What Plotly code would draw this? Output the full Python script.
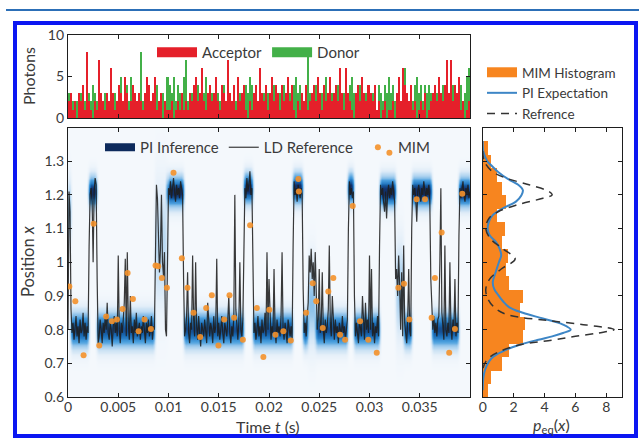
import numpy as np
import plotly.graph_objects as go

# ---------------- data ----------------
photon_dt = 0.0002
acceptor = [2,3,1,2,0,3,2,4,1,8,2,1,0,2,1,7,3,2,1,3,
            2,6,3,1,2,4,3,2,5,3,1,2,4,3,2,3,2,1,3,5,
            4,2,3,5,1,2,3,0,2,1,1,2,0,1,2,1,3,1,2,1,
            3,2,4,5,2,3,6,2,1,3,4,2,3,5,2,1,4,3,2,7,
            3,2,4,1,5,2,3,4,1,0,2,1,3,4,2,6,3,2,4,1,
            3,5,2,4,3,1,4,2,3,5,2,4,1,0,2,1,3,2,4,1,
            2,3,4,2,5,3,1,4,2,3,5,2,3,4,2,6,3,1,6,3,
            2,1,0,3,4,2,5,3,2,4,3,2,4,1,2,0,1,2,0,1,
            1,2,0,3,5,2,6,4,3,2,4,1,2,0,1,2,1,3,0,1,
            2,3,4,2,5,3,2,4,7,3,7,2,4,3,5,1,2,0,1,2]
donor = [3,1,2,1,2,1,3,1,2,1,3,2,4,3,2,1,2,1,3,2,
         1,2,1,3,2,1,5,2,1,4,2,5,1,3,2,1,8,2,1,2,
         3,1,2,1,4,2,1,3,2,5,4,3,5,2,4,3,2,5,7,2,
         1,3,2,1,4,2,1,3,5,2,1,3,2,1,3,2,1,4,2,3,
         2,1,3,2,1,3,2,1,4,3,5,4,2,3,1,2,1,3,2,3,
         1,2,4,1,2,3,1,4,2,1,3,2,4,5,3,4,2,1,3,8,
         3,1,2,4,1,2,3,1,5,2,1,3,2,1,4,2,1,3,2,1,
         4,5,3,2,1,4,2,1,3,2,1,3,2,1,4,3,2,4,3,5,
         3,4,2,1,3,2,1,6,2,1,3,2,4,5,3,4,2,4,3,4,
         3,1,2,3,1,2,4,1,2,1,3,4,2,1,3,4,2,3,5,6]

ld_dt = 0.0001
ld_reference = [
    0.80, 1.21, 1.15, 0.86, 0.79,
    0.82, 0.77, 0.80, 0.84, 0.78, 0.81, 0.76, 0.83, 0.79, 0.80, 0.85, 0.78, 0.82, 0.77, 0.81, 0.79,
    1.05, 1.20, 1.22, 1.18, 1.00, 1.21, 1.25, 1.23,
    0.95, 0.76,
    0.78, 0.83, 0.80, 0.76, 0.82, 0.79, 0.84, 0.80, 0.88, 0.79,
    0.77, 0.82, 0.80, 0.75, 0.81, 0.84, 0.79, 0.82, 0.78, 1.02,
    0.80, 0.76, 0.82, 0.79, 0.83, 0.88, 1.01, 0.78, 1.03, 0.82,
    0.77, 0.90, 0.79, 0.81, 0.76, 0.83, 0.79, 0.85, 0.78, 0.80,
    0.82, 0.77, 0.81, 0.79, 0.84, 0.80, 0.76, 0.82, 0.79, 0.83,
    0.78, 0.80, 0.84, 0.77, 0.81,
    0.80, 1.05, 1.23, 1.19, 1.02, 0.97, 1.04, 1.20, 1.00, 0.96, 1.03, 0.80, 0.78, 1.10,
    1.22, 1.20, 1.24, 1.19, 1.22, 1.25, 1.21, 1.18, 1.23, 1.20, 1.22, 1.19, 1.24, 1.21, 1.20,
    0.95, 0.78,
    0.80, 0.84, 0.97, 0.79, 0.76, 0.82, 0.80, 1.02, 0.83, 0.78,
    1.00, 0.81, 0.77, 0.84, 0.79, 0.75, 0.82, 0.80, 0.78, 0.83,
    0.79, 0.76, 0.88, 0.81, 0.78, 0.82, 0.80, 0.76, 0.84, 0.79,
    0.81, 1.01, 0.78, 0.82, 0.77, 0.80, 0.84, 0.79, 0.76, 0.82,
    0.80, 0.78, 0.83, 0.90, 0.79, 0.76, 0.81, 0.78, 0.84, 1.20,
    0.86, 0.79, 0.77, 0.82, 1.00, 0.80, 0.78, 0.83,
    1.10, 1.22, 1.19, 1.25, 1.21, 1.23, 1.27, 1.20, 1.22,
    0.90, 0.79,
    0.82, 0.77, 0.80, 0.84, 0.78, 0.81, 0.76, 0.83, 0.79, 0.80,
    0.85, 0.78, 1.03, 0.80, 0.95, 0.82, 0.77, 0.81, 0.79, 0.98,
    0.80, 0.76, 0.83, 0.79, 0.81, 0.78, 0.84, 1.03, 0.80, 0.77,
    0.82, 0.79, 0.76, 0.83, 0.80, 0.78, 0.81, 0.77,
    1.05, 1.24, 1.20, 1.22, 1.18, 1.23, 1.21, 1.19, 1.22, 1.20,
    0.92, 0.79,
    0.82, 0.78, 0.84, 0.88, 1.02, 0.97, 1.04, 0.95, 1.00, 0.90,
    1.03, 0.85, 0.80, 0.83, 0.98, 0.79, 0.82, 0.97, 0.80, 0.76,
    0.83, 0.79, 0.81, 0.86, 1.05, 0.82, 0.78, 0.90, 0.80, 0.77,
    0.83, 0.79, 0.81, 0.76, 0.82, 0.80, 0.78, 0.84, 0.79, 0.81,
    0.77, 0.80, 0.83,
    1.10, 1.24, 1.20, 1.22, 1.19, 1.21,
    0.90, 0.78,
    0.82, 0.79, 0.76, 0.83, 0.80, 0.78, 0.90, 0.81, 0.77, 0.88,
    0.80, 0.83, 0.79, 1.02, 0.80, 0.98, 0.78, 0.82, 0.76, 0.81,
    0.79, 0.84, 0.78,
    1.05, 1.23, 1.20, 1.22, 1.18, 1.15, 1.21, 1.13, 1.20, 1.23, 1.19, 1.22, 1.20, 1.24, 1.21, 1.18,
    0.95, 0.98, 0.90, 1.02, 0.93, 0.80, 0.97, 0.78, 1.05, 0.82, 0.79, 0.76, 0.83, 0.98, 0.80, 0.78,
    1.10, 1.23, 1.20, 1.22, 1.19, 1.12, 1.21, 1.23, 1.20, 1.18, 1.22, 1.20, 1.24, 1.21, 1.19, 1.22, 1.20, 1.23, 1.18,
    0.95, 0.85, 0.80, 0.84, 0.79, 0.82, 0.78, 0.83, 0.84, 1.00, 1.22, 0.85, 0.81, 0.77, 1.05, 0.80, 0.78, 0.82,
    0.79, 1.00, 0.81, 0.77, 0.83, 0.80, 0.95, 0.78, 0.82, 0.79,
    1.08, 1.22, 1.19, 1.21, 1.24, 1.20, 1.18, 1.22, 1.20, 1.23, 1.19, 1.21]

mim_t = [0.00013,0.00073,0.00155,0.00255,0.00311,0.0038,0.00437,0.00487,0.00543,0.00593,
         0.00646,0.00702,0.00762,0.00825,0.00871,0.00898,0.00934,0.00984,0.0105,0.01133,
         0.01189,0.01249,0.01315,0.01375,0.01431,0.01497,0.01554,0.01607,0.01653,0.0174,
         0.01812,0.01879,0.01944,0.02004,0.02064,0.02143,0.02217,0.02292,0.02297,0.0237,
         0.02435,0.0247,0.02535,0.0259,0.0264,0.02707,0.02757,0.02833,0.02906,0.02988,
         0.03072,0.03198,0.03287,0.03343,0.03396,0.03469,0.03552,0.03618,0.03651,0.03718,
         0.03793,0.0385,0.03923]
mim_x = [0.928,0.884,0.724,1.114,0.753,0.839,0.825,0.830,0.861,0.968,
         0.891,0.795,0.830,0.802,0.990,0.988,0.953,0.924,1.266,1.012,
         0.924,0.850,0.778,0.864,0.902,0.753,0.830,0.902,0.835,0.770,
         1.110,0.864,0.719,0.859,0.785,0.795,0.768,1.247,1.210,0.850,
         0.938,0.884,0.805,0.913,0.953,0.785,0.770,1.167,0.825,0.770,
         0.731,1.325,0.924,0.936,0.830,1.187,1.187,0.835,0.953,1.088,
         0.731,0.802,1.203]

# PI inference posterior: piecewise segments (start, end, mean, spread)
pi_t0 = [0.0, 0.0003, 0.0021, 0.0029, 0.0087, 0.0099, 0.0115, 0.0175, 0.0184, 0.0224, 0.0234,
         0.0239, 0.0247, 0.0279, 0.0285, 0.0310, 0.0326, 0.0334, 0.0342, 0.0362, 0.0389]
pi_t1 = [0.0003, 0.0021, 0.0029, 0.0087, 0.0099, 0.0115, 0.0175, 0.0184, 0.0224, 0.0234, 0.0239,
         0.0247, 0.0279, 0.0285, 0.0310, 0.0326, 0.0334, 0.0342, 0.0362, 0.0389, 0.0401]
pi_mu = [1.15, 0.80, 1.21, 0.80, 1.05, 1.21, 0.80, 1.22, 0.80, 1.22, 0.80,
         0.88, 0.80, 1.22, 0.80, 1.21, 0.92, 0.80, 1.21, 0.80, 1.21]
pi_sd = [0.06, 0.035, 0.03, 0.035, 0.12, 0.03, 0.035, 0.03, 0.035, 0.03, 0.035,
         0.08, 0.035, 0.03, 0.035, 0.03, 0.09, 0.035, 0.03, 0.035, 0.03]

hist_centers = [0.62,0.66,0.70,0.74,0.78,0.82,0.86,0.90,0.94,0.98,1.02,1.06,1.10,1.14,1.18,1.22,1.26,1.30,1.34]
hist_vals = [0.3,0.55,1.2,1.7,2.6,2.75,2.4,2.6,1.7,1.5,1.6,1.2,1.4,0.9,1.5,1.2,0.9,0.5,0.3]

piexp_pos = [1.36,1.327,1.30,1.288,1.268,1.248,1.23,1.214,1.198,1.18,
             1.16,1.14,1.12,1.10,1.08,1.06,1.04,1.021,1.00,0.972,
             0.94,0.92,0.903,0.885,0.867,0.85,0.833,0.815,0.80,0.79,
             0.78,0.77,0.755,0.74,0.72,0.705,0.68,0.66,0.62]
piexp_p = [0.0,0.05,0.3,0.55,1.0,1.6,2.3,2.6,2.5,2.15,
           1.3,0.65,0.4,0.32,0.45,0.86,1.1,1.2,1.05,0.85,
           0.65,0.75,1.0,1.3,1.7,2.6,3.9,5.2,5.7,5.2,
           4.5,3.6,2.4,1.5,0.7,0.4,0.15,0.05,0.0]
ref_pos = [1.33,1.30,1.27,1.25,1.23,1.21,1.20,1.19,1.17,1.15,
           1.13,1.10,1.07,1.04,1.01,0.98,0.95,0.92,0.89,0.86,
           0.843,0.827,0.814,0.80,0.79,0.78,0.769,0.755,0.735,0.72,
           0.705,0.69,0.67]
ref_p = [0.0,0.1,0.6,1.5,3.0,4.3,4.5,3.9,2.2,1.0,
         0.4,0.2,0.5,1.3,2.1,1.2,0.45,0.2,0.35,0.9,
         1.7,4.2,6.7,8.5,7.5,6.0,4.5,2.4,1.1,0.5,
         0.2,0.05,0.0]

time_ticks = [0, 0.005, 0.01, 0.015, 0.02, 0.025, 0.03, 0.035]
time_labels = ["0", "0.005", "0.01", "0.015", "0.02", "0.025", "0.03", "0.035"]
pos_ticks = [0.6, 0.7, 0.8, 0.9, 1.0, 1.1, 1.2, 1.3]
pos_labels = ["0.6", "0.7", "0.8", "0.9", "1", "1.1", "1.2", "1.3"]

# ---------------- posterior density grid ----------------
t_grid = np.linspace(0, 0.04, 401)
y_grid = np.linspace(0.6, 1.4, 161)
mu = np.full_like(t_grid, 0.8)
sd = np.full_like(t_grid, 0.035)
for a, b, m, s in zip(pi_t0, pi_t1, pi_mu, pi_sd):
    mask = (t_grid >= a - 1e-12) & (t_grid < b - 1e-12)
    mu[mask] = m
    sd[mask] = s
z = (0.035 / sd)[None, :] * np.exp(-0.5 * ((y_grid[:, None] - mu[None, :]) / sd[None, :]) ** 2)
kern = np.array([1, 2, 3, 2, 1], dtype=float)
kern /= kern.sum()
z = np.array([np.convolve(row, kern, mode="same") for row in z])
z = np.minimum(1.0, 0.9 * z)

FONT = "Lato"
TXT = "#3a3a3a"
W, H = 639, 438

fig = go.Figure()

# photons
fig.add_trace(go.Bar(y=donor, x0=photon_dt / 2, dx=photon_dt, width=photon_dt,
                     marker=dict(color="#43b048", line=dict(width=0)),
                     showlegend=False, xaxis="x", yaxis="y"))
fig.add_trace(go.Bar(y=acceptor, x0=photon_dt / 2, dx=photon_dt, width=photon_dt,
                     marker=dict(color="#e5202a", line=dict(width=0)),
                     showlegend=False, xaxis="x", yaxis="y"))
fig.add_trace(go.Scatter(x=[None], y=[None], mode="lines", name="Acceptor",
                         line=dict(color="#e5202a", width=12), legend="legend",
                         xaxis="x", yaxis="y"))
fig.add_trace(go.Scatter(x=[None], y=[None], mode="lines", name="Donor",
                         line=dict(color="#43b048", width=12), legend="legend",
                         xaxis="x", yaxis="y"))

# main panel
fig.add_trace(go.Heatmap(x=t_grid, y=y_grid, z=z, zmin=0, zmax=1, zsmooth="best",
                         showscale=False, hoverinfo="skip",
                         colorscale=[[0, "#f4f8fc"], [0.1, "#e4eff9"], [0.3, "#b0d4f0"],
                                     [0.55, "#4a9fde"], [0.8, "#1a6db8"], [1, "#10306a"]],
                         xaxis="x2", yaxis="y2"))
fig.add_trace(go.Scatter(x=[None], y=[None], mode="lines", name="PI Inference",
                         line=dict(color="#0d2a5c", width=8), legend="legend2",
                         xaxis="x2", yaxis="y2"))
fig.add_trace(go.Scatter(y=ld_reference, x0=0, dx=ld_dt, mode="lines", name="LD Reference",
                         line=dict(color="rgba(30,30,30,0.88)", width=1.2), legend="legend2",
                         xaxis="x2", yaxis="y2"))
fig.add_trace(go.Scatter(x=mim_t, y=mim_x, mode="markers", name="MIM",
                         marker=dict(color="#f4912a", size=6, opacity=0.9),
                         legend="legend2", xaxis="x2", yaxis="y2"))

# histogram panel
fig.add_trace(go.Bar(y=hist_centers, x=hist_vals, orientation="h", width=0.04,
                     marker=dict(color="#f7851f", line=dict(width=0)),
                     showlegend=False, xaxis="x3", yaxis="y3"))
fig.add_trace(go.Scatter(x=[None], y=[None], mode="lines", name="MIM Histogram",
                         line=dict(color="#f7851f", width=12), legend="legend3",
                         xaxis="x3", yaxis="y3"))
fig.add_trace(go.Scatter(x=piexp_p, y=piexp_pos, mode="lines", name="PI Expectation",
                         line=dict(color="#3d86c6", width=2, shape="spline"),
                         legend="legend3", xaxis="x3", yaxis="y3"))
fig.add_trace(go.Scatter(x=ref_p, y=ref_pos, mode="lines", name="Refrence",
                         line=dict(color="#333333", width=1.5, dash="8px,6px", shape="spline"),
                         legend="legend3", xaxis="x3", yaxis="y3"))

ax = dict(showline=True, linecolor="#1e1e1e", linewidth=1.3, mirror="ticks",
          ticks="inside", ticklen=4, tickcolor="#1e1e1e", showgrid=False, zeroline=False,
          automargin=False, tickfont=dict(family=FONT, size=14, color=TXT))

xd_main = [68 / W, 470 / W]
yd_main = [1 - 397 / H, 1 - 127.5 / H]
fig.update_layout(
    width=W, height=H, autosize=False,
    margin=dict(l=0, r=0, t=0, b=0, pad=0, autoexpand=False),
    paper_bgcolor="white", plot_bgcolor="white", barmode="overlay", bargap=0,
    font=dict(family=FONT, color=TXT),
    xaxis=dict(ax, domain=xd_main, range=[0, 0.04], anchor="y", tickvals=time_ticks,
               showticklabels=False),
    yaxis=dict(ax, domain=[1 - 118 / H, 1 - 35 / H], range=[0, 10], anchor="x",
               tickvals=[0, 5, 10], ticktext=["0", "5", "10"]),
    xaxis2=dict(ax, domain=xd_main, range=[0, 0.04], anchor="y2", tickvals=time_ticks,
                ticktext=time_labels, ticklabelstandoff=-3),
    yaxis2=dict(ax, domain=yd_main, range=[0.6, 1.4], anchor="x2", tickvals=pos_ticks,
                ticktext=pos_labels),
    xaxis3=dict(ax, domain=[482.7 / W, 621.7 / W], range=[0, 9], anchor="y3",
                tickvals=[0, 2, 4, 6, 8], ticklabelstandoff=-3),
    yaxis3=dict(ax, domain=yd_main, range=[0.6, 1.4], anchor="x3", tickvals=pos_ticks,
                showticklabels=False),
    legend=dict(orientation="h", x=152 / W, y=1 - 36 / H, xanchor="left", yanchor="top",
                bgcolor="rgba(0,0,0,0)", font=dict(family=FONT, size=15, color=TXT),
                itemwidth=40),
    legend2=dict(orientation="h", x=100 / W, y=1 - 131 / H, xanchor="left", yanchor="top",
                 bgcolor="rgba(0,0,0,0)", font=dict(family=FONT, size=15, color=TXT),
                 itemwidth=30),
    legend3=dict(orientation="v", x=482 / W, y=1 - 57 / H, xanchor="left", yanchor="top",
                 bgcolor="rgba(0,0,0,0)", font=dict(family=FONT, size=13.5, color=TXT),
                 itemwidth=30, tracegroupgap=0),
    shapes=[
        dict(type="line", xref="paper", yref="paper", x0=6 / W, x1=1, y0=1 - 10 / H,
             y1=1 - 10 / H, line=dict(color="#2c6fb7", width=2)),
        dict(type="rect", xref="paper", yref="paper", x0=15 / W, x1=636 / W,
             y0=1 - 436 / H, y1=1 - 23 / H, line=dict(color="#0b16f2", width=4)),
    ],
    annotations=[
        dict(text="Photons", x=28 / W, y=1 - 76 / H, xref="paper", yref="paper",
             xanchor="center", yanchor="middle",
             textangle=-90, showarrow=False, font=dict(family=FONT, size=16, color=TXT)),
        dict(text="Position <i>x</i>", x=28 / W, y=1 - 262 / H, xref="paper", yref="paper",
             xanchor="center", yanchor="middle",
             textangle=-90, showarrow=False, font=dict(family=FONT, size=16.5, color=TXT)),
        dict(text="Time <i>t</i> (s)", x=268 / W, y=1 - 426 / H, xref="paper", yref="paper",
             xanchor="center", yanchor="middle",
             showarrow=False, font=dict(family=FONT, size=16, color=TXT)),
        dict(text="<i>p</i><sub>eq</sub>(<i>x</i>)", x=551 / W, y=1 - 425 / H,
             xref="paper", yref="paper", xanchor="center", yanchor="middle",
             showarrow=False, font=dict(family=FONT, size=16, color=TXT)),
    ],
)

fix_page = (
    "document.documentElement.style.margin='0';"
    "document.documentElement.style.overflow='hidden';"
    "document.body.style.margin='0';document.body.style.overflow='hidden';"
    "var gd=document.getElementsByClassName('plotly-graph-div')[0];"
    "gd.style.position='fixed';gd.style.left='0px';gd.style.top='0px';"
)
fig.write_html("out.html", config={"displayModeBar": False}, post_script=fix_page)
